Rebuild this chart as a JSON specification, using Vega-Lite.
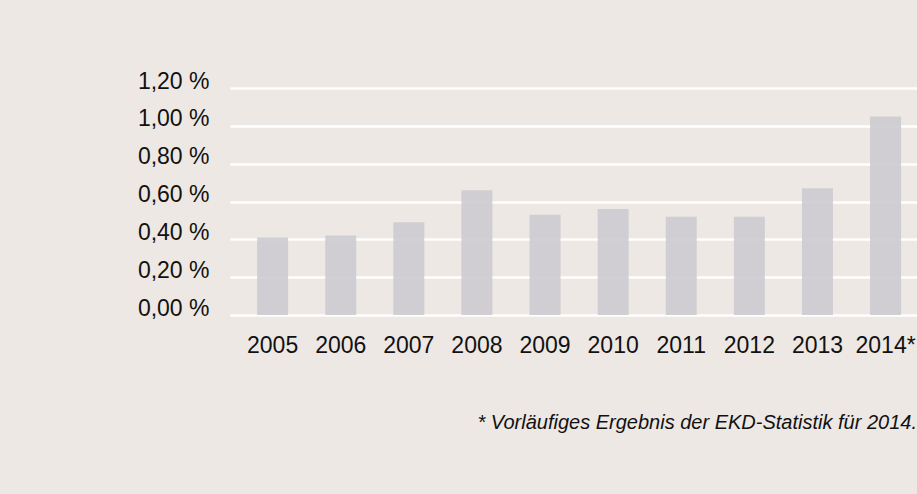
{
  "$schema": "https://vega.github.io/schema/vega-lite/v6.json",
  "width": 687,
  "height": 227,
  "autosize": {"type": "none"},
  "padding": {"left": 230, "top": 88, "right": 0, "bottom": 179},
  "background": "#ede8e4",
  "config": {
    "view": {"stroke": null},
    "font": "Liberation Sans, sans-serif"
  },
  "title": {
    "text": "* Vorläufiges Ergebnis der EKD-Statistik für 2014.",
    "orient": "bottom",
    "anchor": "end",
    "frame": "group",
    "font": "Liberation Sans, sans-serif",
    "fontStyle": "italic",
    "fontWeight": "normal",
    "fontSize": 20,
    "color": "#111111",
    "offset": 56
  },
  "data": {
    "values": [
      {"year": "2005", "value": 0.41},
      {"year": "2006", "value": 0.42},
      {"year": "2007", "value": 0.49},
      {"year": "2008", "value": 0.66},
      {"year": "2009", "value": 0.53},
      {"year": "2010", "value": 0.56},
      {"year": "2011", "value": 0.52},
      {"year": "2012", "value": 0.52},
      {"year": "2013", "value": 0.67},
      {"year": "2014*", "value": 1.05}
    ]
  },
  "mark": {"type": "bar", "color": "#cccbcf", "opacity": 0.9},
  "encoding": {
    "x": {
      "field": "year",
      "type": "ordinal",
      "sort": null,
      "scale": {"paddingInner": 0.545, "paddingOuter": 0.316, "align": 0.63},
      "axis": {
        "title": null,
        "domain": false,
        "ticks": false,
        "labelAngle": 0,
        "labelFontSize": 23,
        "labelColor": "#111111",
        "labelPadding": 19,
        "labelFont": "Liberation Sans, sans-serif"
      }
    },
    "y": {
      "field": "value",
      "type": "quantitative",
      "scale": {"domain": [0, 1.2], "nice": false},
      "axis": {
        "title": null,
        "domain": false,
        "ticks": false,
        "values": [0, 0.2, 0.4, 0.6, 0.8, 1.0, 1.2],
        "grid": true,
        "gridColor": "#ffffff",
        "gridWidth": 2.5,
        "gridOpacity": 1,
        "labelExpr": "replace(format(datum.value, '.2f'), '.', ',') + ' %'",
        "labelFontSize": 23,
        "labelColor": "#111111",
        "labelBaseline": "alphabetic",
        "labelPadding": 21,
        "labelFont": "Liberation Sans, sans-serif"
      }
    }
  }
}
